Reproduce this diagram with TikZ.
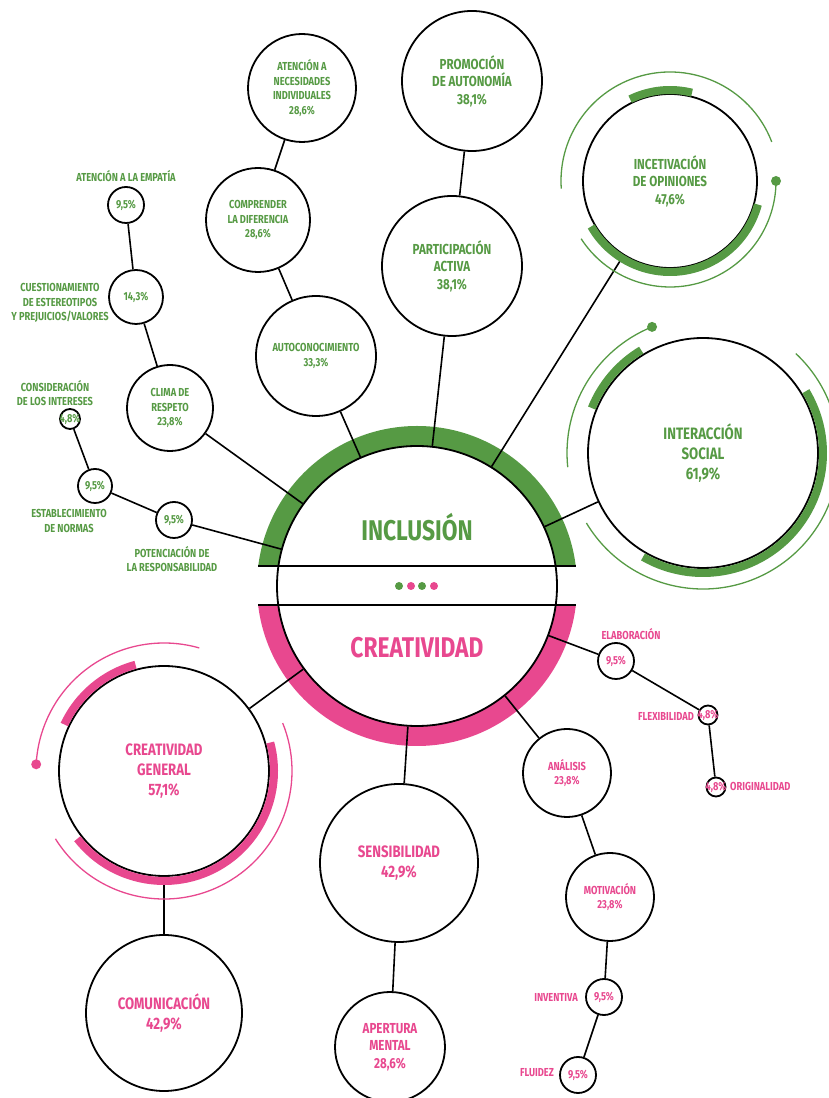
\documentclass[tikz,border=0pt]{standalone}
\usepackage{fontspec}
\newfontfamily\condfont{Fira Sans}[FakeStretch=0.8]
\usepackage{tikz}
\usetikzlibrary{positioning}
\definecolor{incgreen}{RGB}{86,154,68}
\definecolor{crepink}{RGB}{232,72,143}
\newcommand{\fsmall}{\condfont\bfseries\fontsize{11.6}{14.5}\selectfont}
\newcommand{\fmid}{\condfont\bfseries\fontsize{14.5}{17.5}\selectfont}
\newcommand{\fbig}{\condfont\bfseries\fontsize{16.5}{20}\selectfont}
\newcommand{\fhuge}{\condfont\bfseries\fontsize{28.5}{30}\selectfont}
\tikzset{
  sat/.style={circle,draw=black,line width=1.8pt,fill=white,inner sep=0pt,align=center},
  gsat/.style={sat,text=incgreen},
  psat/.style={sat,text=crepink},
  glabel/.style={text=incgreen,font=\fsmall,align=center,inner sep=0pt},
  plabel/.style={text=crepink,font=\fsmall,align=center,inner sep=0pt},
  link/.style={draw=black,line width=1.6pt},
  gbar/.style={draw=incgreen,line width=8pt},
  pbar/.style={draw=crepink,line width=8pt},
  gthin/.style={draw=incgreen,line width=1.3pt},
  pthin/.style={draw=crepink,line width=1.3pt}
}

\begin{document}
\begin{tikzpicture}[x=1pt,y=1pt]
\useasboundingbox (0,0) rectangle (829,1098);
% central ring
\coordinate (c) at (417,512);
\begin{scope}
\clip (0,532) rectangle (829,1098);
\fill[incgreen,even odd rule] (c) circle (160) (c) circle (140);
\end{scope}
\begin{scope}
\clip (0,0) rectangle (829,493);
\fill[crepink,even odd rule] (c) circle (160) (c) circle (140);
\end{scope}
\node[circle,draw=black,line width=1.8pt,minimum size=280pt,inner sep=0pt] (ctr) at (c) {};
\draw[line width=1.6pt] (258,532) -- (576,532);
\draw[line width=1.6pt] (258,493) -- (576,493);
\fill[incgreen] (399,512) circle (4);
\fill[crepink] (411,512) circle (4);
\fill[incgreen] (422,512) circle (4);
\fill[crepink] (434,512) circle (4);
\node[text=incgreen,font=\fhuge] (inctitle) at (417,571) {INCLUSIÓN};
\node[text=crepink,font=\fhuge] (cretitle) at (417,450) {CREATIVIDAD};

% inclusion side
\node[gsat,minimum size=108pt,font=\fsmall] (necind) at (302,1010) {ATENCIÓN A\\NECESIDADES\\INDIVIDUALES\\28,6\%};
\node[gsat,minimum size=104pt,font=\fsmall] (compdif) at (258,878) {COMPRENDER\\LA DIFERENCIA\\28,6\%};
\node[gsat,minimum size=120pt,font=\fsmall] (autocon) at (316,742) {AUTOCONOCIMIENTO\\33,3\%};
\node[gsat,minimum size=140pt,font=\fmid] (promo) at (472,1017) {PROMOCIÓN\\DE AUTONOMÍA\\38,1\%};
\node[gsat,minimum size=140pt,font=\fmid] (partic) at (452,832) {PARTICIPACIÓN\\ACTIVA\\38,1\%};
\node[gsat,minimum size=174pt,font=\fmid] (incet) at (670,917) {INCETIVACIÓN\\DE OPINIONES\\47,6\%};
\node[gsat,minimum size=230pt,font=\fbig] (interac) at (703,645) {INTERACCIÓN\\SOCIAL\\61,9\%};
\node[gsat,minimum size=86pt,font=\fsmall] (clima) at (170,690) {CLIMA DE\\RESPETO\\23,8\%};
\node[gsat,minimum size=54pt,font=\fsmall] (estereo) at (136,801) {14,3\%};
\node[gsat,minimum size=36pt,font=\fsmall] (empatia) at (126,893) {9,5\%};
\node[gsat,minimum size=20pt,label={[glabel]center:4,8\%}] (interes) at (70,679) {};
\node[gsat,minimum size=34pt,font=\fsmall] (normas) at (95,612) {9,5\%};
\node[gsat,minimum size=36pt,font=\fsmall] (respons) at (174,578) {9,5\%};

\node[glabel] (lempatia) at (126,922) {ATENCIÓN A LA EMPATÍA};
\node[glabel] (lestereo) at (60,795) {CUESTIONAMIENTO\\DE ESTEREOTIPOS\\Y PREJUICIOS/VALORES};
\node[glabel] (linteres) at (55,705) {CONSIDERACIÓN\\DE LOS INTERESES};
\node[glabel] (lnormas) at (69,577) {ESTABLECIMIENTO\\DE NORMAS};
\node[glabel] (lrespons) at (172,539) {POTENCIACIÓN DE\\LA RESPONSABILIDAD};

% creatividad side
\node[psat,minimum size=210pt,font=\fbig] (cregen) at (164,327) {CREATIVIDAD\\GENERAL\\57,1\%};
\node[psat,minimum size=156pt,font=\fbig] (comun) at (164,85) {COMUNICACIÓN\\42,9\%};
\node[psat,minimum size=158pt,font=\fbig] (sensib) at (399,235) {SENSIBILIDAD\\42,9\%};
\node[psat,minimum size=110pt,font=\fmid] (apert) at (390,51) {APERTURA\\MENTAL\\28,6\%};
\node[psat,minimum size=88pt,font=\fsmall] (analis) at (567,325) {ANÁLISIS\\23,8\%};
\node[psat,minimum size=88pt,font=\fsmall] (motiv) at (610,201) {MOTIVACIÓN\\23,8\%};
\node[psat,minimum size=36pt,font=\fsmall] (invent) at (604,101) {9,5\%};
\node[psat,minimum size=36pt,font=\fsmall] (fluid) at (578,23) {9,5\%};
\node[psat,minimum size=36pt,font=\fsmall] (elab) at (616,437) {9,5\%};
\node[psat,minimum size=19pt,label={[plabel]center:4,8\%}] (flex) at (708,383) {};
\node[psat,minimum size=19pt,label={[plabel]center:4,8\%}] (orig) at (716,311) {};

\node[plabel] (lelab) at (631,464) {ELABORACIÓN};
\node[plabel,anchor=east] (lflex) at (694,382) {FLEXIBILIDAD};
\node[plabel,anchor=west] (lorig) at (730,312) {ORIGINALIDAD};
\node[plabel,anchor=east] (linvent) at (578,101) {INVENTIVA};
\node[plabel,anchor=east] (lfluid) at (554,25) {FLUIDEZ};

% connectors
\draw[link] (clima) -- (ctr);
\draw[link] (respons) -- (ctr);
\draw[link] (normas) -- (respons);
\draw[link] (interes) -- (normas);
\draw[link] (clima) -- (estereo);
\draw[link] (estereo) -- (empatia);
\draw[link] (autocon) -- (ctr);
\draw[link] (autocon) -- (compdif);
\draw[link] (compdif) -- (necind);
\draw[link] (partic) -- (ctr);
\draw[link] (promo) -- (partic);
\draw[link] (incet) -- (ctr);
\draw[link] (interac) -- (ctr);
\draw[link] (cregen) -- (ctr);
\draw[link] (cregen) -- (comun);
\draw[link] (sensib) -- (ctr);
\draw[link] (sensib) -- (apert);
\draw[link] (analis) -- (ctr);
\draw[link] (analis) -- (motiv);
\draw[link] (motiv) -- (invent);
\draw[link] (invent) -- (fluid);
\draw[link] (elab) -- (ctr);
\draw[link] (elab) -- (flex);
\draw[link] (flex) -- (orig);

% highlight arcs
\draw[gbar] (incet.center) ++(76:91) arc[start angle=76,end angle=116,radius=91];
\draw[gbar] (incet.center) ++(210:91) arc[start angle=210,end angle=345,radius=91];
\draw[gthin] (incet.center) ++(21:109) arc[start angle=21,end angle=184,radius=109];
\draw[gthin] (incet.center) ++(213:106) arc[start angle=213,end angle=360,radius=106];
\fill[incgreen] (incet.center) ++(0:106) circle (5);

\draw[gbar] (interac.center) ++(121:120) arc[start angle=121,end angle=158,radius=120];
\draw[gbar] (interac.center) ++(-120:120) arc[start angle=-120,end angle=31,radius=120];
\draw[gthin] (interac.center) ++(112:136) arc[start angle=112,end angle=186,radius=136];
\draw[gthin] (interac.center) ++(-149:136) arc[start angle=-149,end angle=47,radius=136];
\fill[incgreen] (interac.center) ++(112:136) circle (5);

\draw[pbar] (cregen.center) ++(105:110) arc[start angle=105,end angle=155,radius=110];
\draw[pbar] (cregen.center) ++(-142:110) arc[start angle=-142,end angle=15,radius=110];
\draw[pthin] (cregen.center) ++(74:128) arc[start angle=74,end angle=177,radius=128];
\draw[pthin] (cregen.center) ++(-148:128) arc[start angle=-148,end angle=22,radius=128];
\fill[crepink] (cregen.center) ++(177:128) circle (5);
\end{tikzpicture}
\end{document}
